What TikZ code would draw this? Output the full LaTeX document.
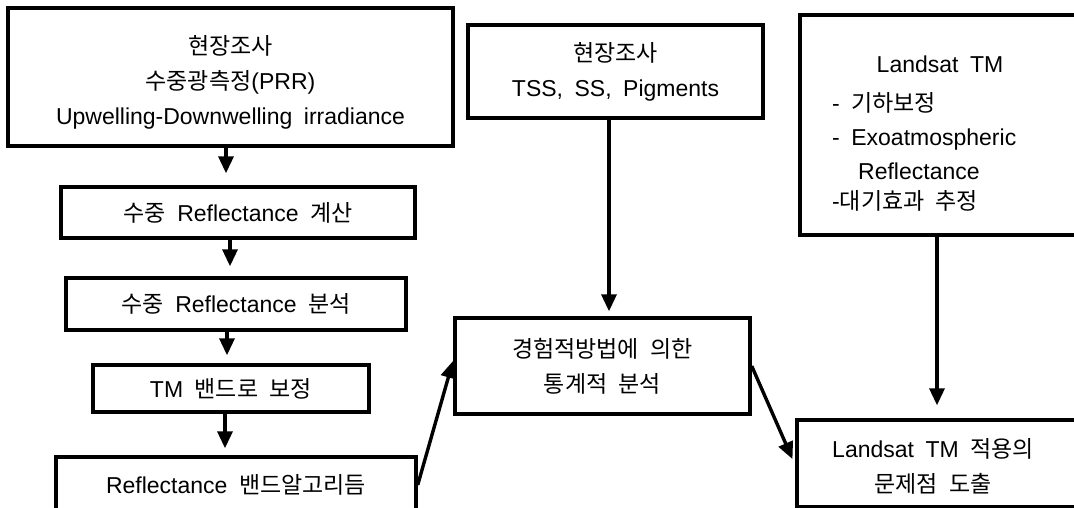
\documentclass[tikz,border=0pt]{standalone}
\usepackage{fontspec}
\setmainfont{Liberation Sans}[WordSpace=1.8]
\newfontfamily\krfont{Noto Sans CJK KR}[WordSpace=2.2]
\newcommand{\K}[1]{{\krfont #1}}
\usetikzlibrary{arrows.meta}
\begin{document}
\begin{tikzpicture}[x=1pt,y=-1pt,
  box/.style={draw, line width=3.4pt, inner sep=0pt, align=center, font=\fontsize{23}{35}\selectfont},
  txt/.style={inner sep=0pt, align=center, font=\fontsize{23}{35}\selectfont},
  arr/.style={line width=3.4pt, -{Triangle[length=17pt,width=15pt]}}]
\useasboundingbox (0,0) rectangle (1074,508);

% left column
\node[box, minimum width=445pt, minimum height=138pt] (b1) at (230.5,77)
  {\rule{0pt}{29pt}\K{현장조사}\\\K{수중광측정}(PRR)\\Upwelling-Downwelling irradiance};
\node[box, minimum width=354pt, minimum height=51pt] (b2) at (238,212.5)
  {\K{수중} Reflectance \K{계산}};
\node[box, minimum width=340pt, minimum height=52pt] (b3) at (236,304)
  {\K{수중} Reflectance \K{분석}};
\node[box, minimum width=276pt, minimum height=47pt] (b4) at (231,388.5)
  {TM \K{밴드로} \K{보정}};
\node[box, minimum width=360pt, minimum height=56pt] (b5) at (236,485)
  {Reflectance \K{밴드알고리듬}};

% middle column
\node[box, minimum width=295pt, minimum height=93pt] (tm) at (615.5,71.5)
  {\K{현장조사}\\TSS, SS, Pigments};
\node[box, minimum width=295pt, minimum height=96pt] (mid) at (602.5,366)
  {\K{경험적방법에 의한}\\\K{통계적 분석}};

% right column
\node[box, minimum width=300pt, minimum height=220pt] (rb) at (950,125) {};
\node[txt] (rt1) at (940,64) {Landsat TM};
\node[txt, anchor=west] (rt2) at (832,103) {- \K{기하보정}};
\node[txt, anchor=west] (rt3) at (832,140) {- Exoatmospheric};
\node[txt, anchor=west] (rt4) at (858,171) {Reflectance};
\node[txt, anchor=west] (rt5) at (832,201) {-\K{대기효과 추정}};

\node[box, minimum width=303pt, minimum height=87pt] (br) at (948.5,463.5) {};
\node[txt] (brt) at (933,466.5) {Landsat TM \K{적용의}\\\K{문제점 도출}};

% connectors
\draw[arr, shorten >=12pt] ([xshift=-4.5pt]b1.south) -- ([xshift=-4.5pt]b1.south |- b2.north);
\draw[arr, shorten >=10pt] ([xshift=-8pt]b2.south) -- ([xshift=-8pt]b2.south |- b3.north);
\draw[arr, shorten >=8pt] ([xshift=-9pt]b3.south) -- ([xshift=-9pt]b3.south |- b4.north);
\draw[arr, shorten >=7pt] ([xshift=-6pt]b4.south) -- ([xshift=-6pt]b4.south |- b5.north);
\draw[arr, shorten >=5pt] ([xshift=-6.5pt]tm.south) -- ([xshift=-6.5pt]tm.south |- mid.north);
\draw[arr, shorten >=13pt] ([xshift=-13pt]rb.south) -- ([xshift=-13pt]rb.south |- br.north);
\draw[arr, shorten >=1pt] (b5.east) -- ([yshift=6pt]mid.west);
\draw[arr, shorten >=7pt] (mid.east) -- ([yshift=-2pt]br.west);
\end{tikzpicture}
\end{document}
